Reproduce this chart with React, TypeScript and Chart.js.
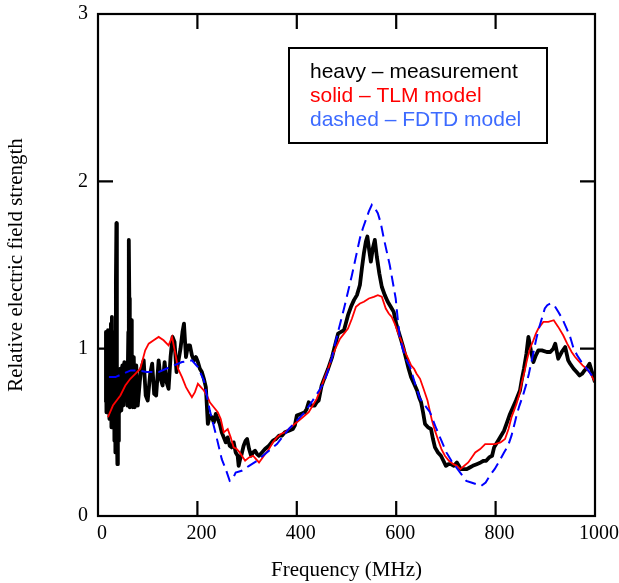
import React, { useEffect, useRef } from "react";
import { Chart, registerables } from "chart.js";

Chart.register(...registerables);

// Measurement (heavy black)
const measFreq = [15, 16, 17, 18, 19, 20, 21, 22, 23, 24, 25, 26, 27, 28, 29, 30, 31, 32, 33, 34, 35, 36, 37, 38, 39, 40, 41, 42, 43, 45, 47, 49, 51, 53, 55, 57, 59, 61, 62, 63, 64, 66, 67, 68, 70, 72, 74, 77, 80, 84, 87, 92, 96, 100, 105, 109, 113, 117, 122, 126, 130, 134, 138, 142, 146, 150, 154, 158, 162, 166, 170, 173, 177, 181, 185, 189, 193, 197, 201, 205, 209, 213, 217, 221, 225, 229, 233, 237, 241, 245, 249, 253, 257, 261, 265, 269, 273, 277, 281, 283, 286, 289, 293, 297, 300, 304, 308, 312, 316, 320, 324, 330, 336, 344, 352, 358, 364, 370, 376, 384, 392, 396, 400, 408, 416, 420, 424, 430, 436, 440, 444, 450, 455, 463, 471, 477, 483, 489, 495, 503, 509, 515, 521, 527, 531, 535, 539, 542, 546, 549, 553, 557, 561, 566, 571, 577, 583, 589, 595, 600, 605, 610, 614, 620, 625, 630, 636, 642, 646, 650, 654, 658, 664, 670, 674, 678, 684, 690, 695, 700, 705, 710, 716, 722, 726, 730, 736, 742, 748, 754, 762, 770, 776, 781, 787, 793, 797, 801, 805, 811, 817, 823, 829, 835, 841, 845, 849, 853, 857, 862, 866, 871, 876, 881, 886, 893, 903, 910, 916, 920, 926, 933, 940, 946, 950, 957, 963, 969, 974, 979, 985, 989, 994, 1000];
const measValue = [0.68, 1.10, 0.62, 1.05, 0.70, 1.11, 0.63, 0.90, 0.58, 1.00, 0.60, 1.15, 0.53, 1.19, 0.60, 0.95, 0.55, 1.05, 0.45, 1.10, 0.38, 1.40, 1.75, 0.50, 0.31, 0.80, 0.45, 0.85, 0.62, 0.88, 0.63, 0.90, 0.66, 0.92, 0.70, 0.90, 0.66, 1.10, 1.65, 1.30, 0.65, 0.90, 1.17, 0.80, 0.65, 0.95, 0.65, 0.90, 0.66, 0.80, 0.88, 0.93, 0.72, 0.69, 0.85, 0.91, 0.73, 0.72, 0.93, 0.82, 0.78, 0.92, 0.80, 0.76, 0.95, 1.07, 1.04, 0.86, 0.93, 1.00, 1.10, 1.15, 0.95, 1.02, 1.02, 0.96, 0.93, 0.95, 0.92, 0.88, 0.86, 0.82, 0.77, 0.55, 0.60, 0.59, 0.56, 0.61, 0.58, 0.55, 0.50, 0.47, 0.44, 0.47, 0.42, 0.41, 0.44, 0.38, 0.36, 0.30, 0.34, 0.37, 0.42, 0.45, 0.46, 0.40, 0.36, 0.38, 0.39, 0.37, 0.36, 0.38, 0.40, 0.42, 0.45, 0.46, 0.48, 0.48, 0.50, 0.51, 0.52, 0.54, 0.60, 0.61, 0.62, 0.64, 0.68, 0.66, 0.66, 0.68, 0.69, 0.78, 0.82, 0.88, 0.95, 1.02, 1.09, 1.10, 1.11, 1.20, 1.25, 1.29, 1.32, 1.38, 1.48, 1.57, 1.64, 1.67, 1.58, 1.52, 1.60, 1.65, 1.55, 1.45, 1.37, 1.32, 1.28, 1.25, 1.22, 1.15, 1.10, 1.05, 1.01, 0.94, 0.88, 0.83, 0.79, 0.75, 0.71, 0.68, 0.62, 0.55, 0.53, 0.52, 0.46, 0.41, 0.38, 0.36, 0.33, 0.30, 0.31, 0.31, 0.30, 0.32, 0.30, 0.28, 0.28, 0.28, 0.29, 0.30, 0.31, 0.32, 0.33, 0.33, 0.35, 0.36, 0.41, 0.43, 0.45, 0.48, 0.51, 0.56, 0.61, 0.65, 0.69, 0.72, 0.75, 0.82, 0.88, 0.97, 1.07, 0.99, 0.92, 0.96, 0.99, 0.99, 0.98, 0.98, 1.00, 1.03, 0.94, 0.98, 1.01, 0.93, 0.91, 0.88, 0.86, 0.84, 0.85, 0.87, 0.89, 0.91, 0.86, 0.80];

// TLM model (solid red)
const tlmFreq = [20, 30, 45, 55, 65, 75, 85, 95, 102, 112, 122, 132, 142, 149, 155, 161, 169, 177, 183, 189, 195, 201, 207, 213, 219, 225, 233, 241, 247, 253, 261, 267, 273, 279, 285, 296, 304, 312, 318, 324, 334, 344, 352, 360, 368, 376, 388, 400, 412, 424, 432, 440, 448, 455, 463, 471, 479, 487, 495, 503, 511, 519, 527, 535, 545, 555, 563, 571, 579, 585, 591, 597, 603, 610, 618, 624, 630, 636, 641, 648, 655, 663, 672, 678, 685, 691, 698, 706, 715, 722, 729, 737, 745, 752, 759, 769, 779, 789, 799, 810, 819, 826, 832, 837, 842, 848, 853, 858, 863, 869, 876, 881, 886, 891, 896, 906, 917, 926, 936, 944, 953, 960, 966, 975, 983, 991, 1000];
const tlmValue = [0.59, 0.66, 0.72, 0.78, 0.82, 0.85, 0.88, 0.99, 1.03, 1.05, 1.07, 1.05, 1.02, 1.07, 0.98, 0.88, 0.83, 0.77, 0.74, 0.71, 0.74, 0.79, 0.77, 0.75, 0.72, 0.68, 0.65, 0.62, 0.58, 0.50, 0.52, 0.47, 0.41, 0.40, 0.38, 0.33, 0.35, 0.36, 0.34, 0.32, 0.36, 0.40, 0.44, 0.47, 0.49, 0.50, 0.53, 0.56, 0.59, 0.62, 0.66, 0.70, 0.76, 0.82, 0.88, 0.95, 1.01, 1.06, 1.09, 1.12, 1.18, 1.25, 1.27, 1.28, 1.30, 1.31, 1.32, 1.31, 1.24, 1.21, 1.19, 1.15, 1.10, 1.05, 0.98, 0.94, 0.90, 0.88, 0.85, 0.82, 0.76, 0.69, 0.57, 0.51, 0.45, 0.40, 0.36, 0.33, 0.31, 0.30, 0.28, 0.30, 0.32, 0.35, 0.38, 0.40, 0.43, 0.43, 0.43, 0.44, 0.46, 0.52, 0.59, 0.63, 0.67, 0.73, 0.80, 0.86, 0.93, 1.00, 1.05, 1.09, 1.12, 1.14, 1.16, 1.16, 1.17, 1.13, 1.08, 1.03, 0.98, 0.95, 0.93, 0.90, 0.88, 0.85, 0.80];

// FDTD model (dashed blue)
const fdtdFreq = [22, 35, 50, 66, 82, 98, 122, 145, 169, 189, 201, 213, 225, 237, 249, 257, 265, 271, 277, 289, 304, 320, 336, 360, 384, 400, 416, 432, 445, 455, 463, 471, 477, 483, 489, 495, 503, 511, 519, 527, 533, 539, 545, 551, 557, 563, 569, 575, 581, 587, 593, 599, 603, 607, 614, 621, 628, 638, 648, 658, 668, 681, 691, 701, 711, 721, 731, 741, 751, 761, 771, 780, 788, 798, 808, 817, 825, 832, 838, 843, 848, 855, 862, 867, 872, 877, 882, 887, 892, 899, 904, 910, 918, 926, 934, 943, 950, 956, 964, 973, 981, 989, 1000];
const fdtdValue = [0.83, 0.83, 0.85, 0.87, 0.87, 0.86, 0.86, 0.89, 0.92, 0.93, 0.89, 0.81, 0.63, 0.49, 0.34, 0.28, 0.21, 0.22, 0.26, 0.27, 0.30, 0.33, 0.37, 0.43, 0.52, 0.57, 0.62, 0.69, 0.75, 0.80, 0.87, 0.95, 1.03, 1.10, 1.17, 1.24, 1.34, 1.44, 1.55, 1.66, 1.72, 1.77, 1.82, 1.86, 1.84, 1.81, 1.75, 1.66, 1.58, 1.50, 1.40, 1.30, 1.18, 1.07, 0.99, 0.93, 0.89, 0.79, 0.70, 0.66, 0.62, 0.52, 0.45, 0.38, 0.33, 0.29, 0.25, 0.21, 0.20, 0.19, 0.18, 0.20, 0.24, 0.28, 0.33, 0.38, 0.42, 0.48, 0.55, 0.61, 0.66, 0.72, 0.79, 0.85, 0.92, 0.99, 1.06, 1.12, 1.17, 1.24, 1.26, 1.27, 1.26, 1.22, 1.18, 1.12, 1.07, 1.01, 0.96, 0.92, 0.89, 0.86, 0.81];

const xTickValues = [0, 200, 400, 600, 800, 1000];
const yTickValues = [0, 1, 2, 3];

const legendLines = [
  { text: "heavy \u2013 measurement", color: "#000000" },
  { text: "solid \u2013 TLM model", color: "#ff0000" },
  { text: "dashed \u2013 FDTD model", color: "#3d6bff" },
];

const toPoints = (xs: number[], ys: number[]) => xs.map((x, i) => ({ x, y: ys[i] }));

const framePlugin = {
  id: "frameTicks",
  afterDatasetsDraw(chart: any) {
    const { ctx, chartArea } = chart;
    const { left, right, top, bottom } = chartArea;
    const xs = chart.scales.x;
    const ys = chart.scales.y;
    const tl = 15;
    ctx.save();
    ctx.strokeStyle = "#000";
    ctx.lineWidth = 2.2;
    ctx.beginPath();
    xTickValues.forEach((v) => {
      if (v === 0 || v === 1000) return;
      const px = xs.getPixelForValue(v);
      ctx.moveTo(px, bottom);
      ctx.lineTo(px, bottom - tl);
      ctx.moveTo(px, top);
      ctx.lineTo(px, top + tl);
    });
    yTickValues.forEach((v) => {
      if (v === 0 || v === 3) return;
      const py = ys.getPixelForValue(v);
      ctx.moveTo(left, py);
      ctx.lineTo(left + tl, py);
      ctx.moveTo(right, py);
      ctx.lineTo(right - tl, py);
    });
    ctx.stroke();
    ctx.strokeRect(left, top, right - left, bottom - top);

    // legend box
    const bx = 289, by = 48, bw = 258, bh = 95;
    ctx.lineWidth = 2;
    ctx.strokeRect(bx, by, bw, bh);
    ctx.font = '21px "Liberation Sans", Arial, sans-serif';
    ctx.textBaseline = "alphabetic";
    ctx.textAlign = "left";
    legendLines.forEach((l, i) => {
      ctx.fillStyle = l.color;
      ctx.fillText(l.text, 310, 78 + i * 24.2);
    });
    ctx.restore();
  },
};

export default function App() {
  const ref = useRef<HTMLCanvasElement | null>(null);
  useEffect(() => {
    if (!ref.current) return;
    const serif = '"Liberation Serif", "Times New Roman", serif';
    const chart = new Chart(ref.current, {
      type: "line",
      data: {
        datasets: [
          {
            label: "FDTD model",
            data: toPoints(fdtdFreq, fdtdValue),
            borderColor: "#0000ff",
            borderWidth: 2,
            borderDash: [11, 6],
            pointRadius: 0,
            fill: false,
            tension: 0,
          },
          {
            label: "TLM model",
            data: toPoints(tlmFreq, tlmValue),
            borderColor: "#ff0000",
            borderWidth: 1.8,
            pointRadius: 0,
            fill: false,
            tension: 0,
          },
          {
            label: "measurement",
            data: toPoints(measFreq, measValue),
            borderColor: "#000000",
            borderWidth: 3.8,
            borderJoinStyle: "round",
            pointRadius: 0,
            fill: false,
            tension: 0,
          },
        ],
      },
      options: {
        animation: false,
        responsive: false,
        maintainAspectRatio: false,
        layout: { padding: { top: 14, right: 24, left: 0, bottom: 0 } },
        plugins: {
          legend: { display: false },
          tooltip: { enabled: false },
        },
        scales: {
          x: {
            type: "linear",
            min: 0,
            max: 1000,
            afterFit: (s: any) => {
              s.height = 67;
              s.paddingLeft = 0;
              s.paddingRight = 0;
            },
            afterBuildTicks: (s: any) => {
              s.ticks = xTickValues.map((v) => ({ value: v }));
            },
            grid: { display: false, drawTicks: false },
            border: { display: false },
            ticks: {
              color: "#000",
              font: { family: serif, size: 20 },
              padding: 6,
              labelOffset: 4,
              maxRotation: 0,
              autoSkip: false,
              callback: (v: any) => String(v),
            },
            title: {
              display: true,
              text: "Frequency (MHz)",
              color: "#000",
              font: { family: serif, size: 21 },
              padding: { top: 0, bottom: 0 },
            },
          },
          y: {
            type: "linear",
            min: 0,
            max: 3,
            afterFit: (s: any) => {
              s.width = 98;
              s.paddingTop = 0;
              s.paddingBottom = 0;
            },
            afterBuildTicks: (s: any) => {
              s.ticks = yTickValues.map((v) => ({ value: v }));
            },
            grid: { display: false, drawTicks: false },
            border: { display: false },
            ticks: {
              color: "#000",
              font: { family: serif, size: 20 },
              padding: 10,
              callback: (v: any) => String(v),
            },
            title: {
              display: true,
              text: "Relative electric field strength",
              color: "#000",
              font: { family: serif, size: 21 },
              padding: { top: 4, bottom: 4 },
            },
          },
        },
      },
      plugins: [framePlugin],
    });
    return () => chart.destroy();
  }, []);
  return (
    <div style={{ position: "fixed", left: 0, top: 0, width: 619, height: 583, background: "#fff" }}>
      <canvas ref={ref} width={619} height={583} style={{ width: 619, height: 583 }} />
    </div>
  );
}
